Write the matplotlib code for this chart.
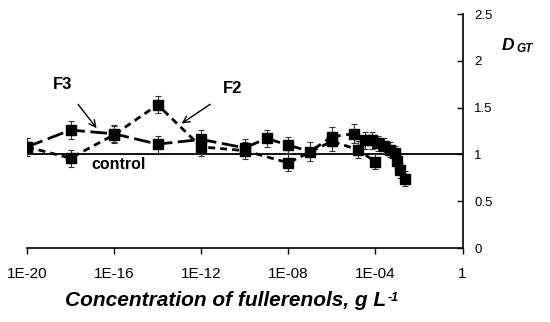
import matplotlib

matplotlib.use("Agg")
import matplotlib.pyplot as plt
import numpy as np

plt.rcParams["font.family"] = ["Liberation Sans", "DejaVu Sans"]

# F3 (long dash)
f3_conc = [1e-20, 1e-18, 1e-16, 1e-14, 1e-12, 1e-10, 1e-9, 1e-8, 1e-7, 1e-6,
           1e-5, 3.3e-5, 6.7e-5, 1.25e-4, 2.4e-4, 4.5e-4, 8.3e-4, 1e-3, 1.4e-3, 2.3e-3]
f3_dgt = [1.08, 1.26, 1.22, 1.11, 1.16, 1.07, 1.17, 1.10, 1.03, 1.19,
          1.22, 1.15, 1.15, 1.12, 1.09, 1.05, 1.01, 0.93, 0.83, 0.74]
f3_err = [0.10, 0.10, 0.09, 0.09, 0.10, 0.09, 0.09, 0.09, 0.10, 0.10,
          0.10, 0.09, 0.09, 0.08, 0.08, 0.08, 0.08, 0.08, 0.08, 0.08]

# F2 (short dash)
f2_conc = [1e-20, 1e-18, 1e-16, 1e-14, 1e-12, 1e-10, 1e-8, 1e-6, 1.6e-5, 1e-4]
f2_dgt = [1.08, 0.96, 1.21, 1.53, 1.08, 1.04, 0.91, 1.14, 1.05, 0.92]
f2_err = [0.10, 0.09, 0.09, 0.09, 0.10, 0.09, 0.09, 0.10, 0.09, 0.08]

x_ticks = [1e-20, 1e-16, 1e-12, 1e-8, 1e-4, 1]
x_tick_labels = ["1E-20", "1E-16", "1E-12", "1E-08", "1E-04", "1"]
y_ticks = [0, 0.5, 1, 1.5, 2, 2.5]
y_tick_labels = ["0", "0.5", "1", "1.5", "2", "2.5"]

fig = plt.figure(figsize=(5.5, 3.22), dpi=100, facecolor="white")
ax = fig.add_axes([0.049, 0.2298, 0.792, 0.7267])

ax.axhline(1.0, color="black", linewidth=1.3, zorder=1)

ax.errorbar(f2_conc, f2_dgt, yerr=f2_err, color="black", linestyle=(0, (2.5, 1.8)),
            linewidth=2.0, marker="s", markersize=6.5, capsize=2.5, elinewidth=0.8,
            capthick=0.8, ecolor="#333333", zorder=3)
ax.errorbar(f3_conc, f3_dgt, yerr=f3_err, color="black", linestyle=(0, (6, 2)),
            linewidth=2.0, marker="s", markersize=6.5, capsize=2.5, elinewidth=0.8,
            capthick=0.8, ecolor="#333333", zorder=3)

ax.set_xscale("log")
ax.set_xlim(1e-20, 1)
ax.set_ylim(0, 2.5)
ax.minorticks_off()
ax.set_xticks(x_ticks)
ax.set_xticklabels(x_tick_labels, fontsize=11)
ax.set_yticks(y_ticks)
ax.set_yticklabels(y_tick_labels, fontsize=9.5)

ax.spines["top"].set_visible(False)
ax.spines["left"].set_visible(False)
ax.spines["bottom"].set_linewidth(1.2)
ax.spines["right"].set_linewidth(1.2)
ax.yaxis.tick_right()
ax.tick_params(axis="y", direction="in", length=4, width=1, pad=8.5)
ax.tick_params(axis="x", direction="out", length=4, width=1, pad=10)

# x-axis title with a small superscript
xlab = fig.text(0.118, 0.068, "Concentration of fullerenols, g L", fontsize=15,
                fontweight="bold", fontstyle="italic", ha="left", va="center")
ax.annotate("-1", xy=(1, 1), xycoords=xlab, xytext=(1, -1), textcoords="offset points",
            fontsize=9, fontweight="bold", fontstyle="italic", ha="left", va="top")

fig.text(0.913, 0.86, "D", fontsize=12.5, fontweight="bold", fontstyle="italic",
         va="center")
fig.text(0.939, 0.848, "GT", fontsize=8.5, fontweight="bold", fontstyle="italic",
         va="center")

ax.text(10 ** -15.8, 0.895, "control", fontsize=11.5, fontweight="bold",
        ha="center", va="center")

ax.annotate("F3", xy=(10 ** -16.8, 1.28), xytext=(10 ** -18.37, 1.75), fontsize=12,
            fontweight="bold", ha="center", va="center",
            arrowprops=dict(arrowstyle="->", color="black", lw=1.0,
                            shrinkA=9, shrinkB=0))
ax.annotate("F2", xy=(10 ** -12.9, 1.33), xytext=(10 ** -10.54, 1.70), fontsize=12,
            fontweight="bold", ha="center", va="center",
            arrowprops=dict(arrowstyle="->", color="black", lw=1.0,
                            shrinkA=9, shrinkB=0))

fig.savefig("out.png", dpi=100, facecolor="white")
